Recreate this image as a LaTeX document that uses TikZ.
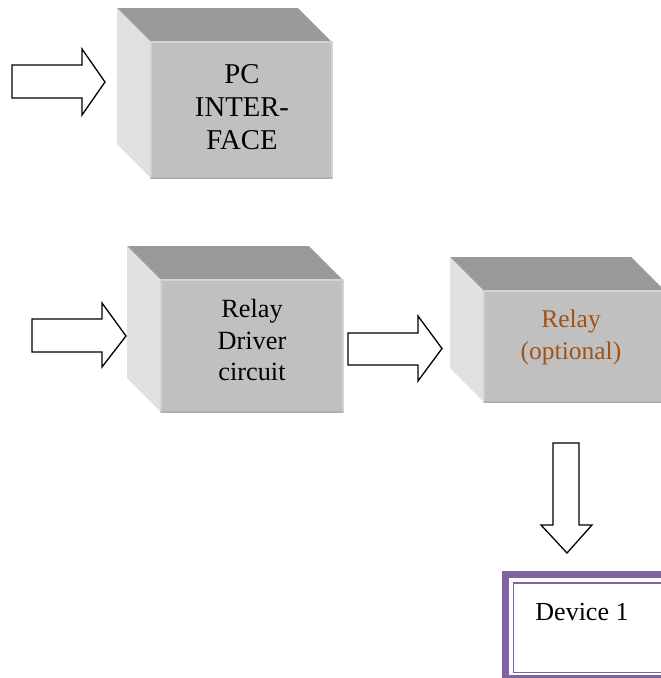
\documentclass[tikz,border=0pt]{standalone}
\usepackage{fontspec}
\setmainfont{Liberation Serif}
\definecolor{topc}{RGB}{153,153,153}
\definecolor{frontc}{RGB}{192,192,192}
\definecolor{sidec}{RGB}{224,224,224}
\definecolor{edgec}{RGB}{210,210,210}
\definecolor{botc}{RGB}{176,176,176}
\definecolor{relayc}{RGB}{160,82,24}
\definecolor{devc}{RGB}{128,100,162}
\tikzset{
  topface/.style={fill=topc, draw=none},
  sideface/.style={fill=sidec, draw=none},
  frontface/.style={fill=frontc, draw=edgec, line width=1.5pt, inner sep=0pt, outer sep=0pt, anchor=north west},
  bottomedge/.style={draw=botc, line width=2pt},
  blockarrow/.style={draw=black, line width=1.3pt, fill=white, line join=miter},
  labeltext/.style={align=center, inner sep=0pt},
  devband/.style={draw=devc, line width=7pt, inner sep=0pt, outer sep=0pt, anchor=north west},
  devline/.style={draw=devc, line width=1.5pt}
}
% #1 name, #2 left, #3 top, #4 right, #5 bottom (depth 34)
\newcommand\drawcube[5]{%
  \fill[topface] (#2,#3) -- ({#4-34},#3) -- (#4,{#3+34}) -- ({#2+34},{#3+34}) -- cycle;
  \fill[sideface] (#2,#3) -- ({#2+34},{#3+34}) -- ({#2+34},#5) -- (#2,{#5-34}) -- cycle;
  \node[frontface, minimum width={(#4-#2-34)*1pt}, minimum height={(#5-#3-34)*1pt}] (#1) at ({#2+34},{#3+34}) {};
  \draw[bottomedge] (#1.south west) -- (#1.south east);
}
\begin{document}
\begin{tikzpicture}[x=1pt,y=-1pt]
\useasboundingbox (0,0) rectangle (661,678);
\clip (0,0) rectangle (661,678);

% cubes
\drawcube{pc}{117}{8}{332}{178}
\drawcube{driver}{127}{246}{343}{412}
\drawcube{relay}{450}{257}{665}{402}

% texts
\node[labeltext, font=\fontsize{28.7}{33.3}\selectfont] (pctext) at (242,107) {PC\\INTER-\\FACE};
\node[labeltext, font=\fontsize{26.3}{31.7}\selectfont] (drivertext) at (252,340) {Relay\\Driver\\circuit};
\node[labeltext, text=relayc, font=\fontsize{25.5}{32}\selectfont] (relaytext) at (571,337.5) {Relay\\(optional)};

% block arrows
\draw[blockarrow] (12,65) -- (82,65) -- (82,49) -- (105,82) -- (82,115) -- (82,98) -- (12,98) -- cycle;
\draw[blockarrow] (32,319) -- (102,319) -- (102,303) -- (126,336) -- (102,367) -- (102,352) -- (32,352) -- cycle;
\draw[blockarrow] (348,333) -- (418,333) -- (418,316) -- (442,348.5) -- (418,381) -- (418,365) -- (348,365) -- cycle;
\draw[blockarrow] (553,443) -- (579,443) -- (579,525) -- (592,525) -- (567,553) -- (541,525) -- (553,525) -- cycle;

% device box
\node[devband, minimum width=170pt, minimum height=104pt] (device) at (505.5,574.5) {};
\draw[devline] ([xshift=8pt,yshift=-8.5pt]device.north west) rectangle ([xshift=-4pt,yshift=6pt]device.south east);
\node[inner sep=0pt, font=\fontsize{26}{30}\selectfont, anchor=base] (devtext) at (582,620) {Device 1};
\end{tikzpicture}
\end{document}
